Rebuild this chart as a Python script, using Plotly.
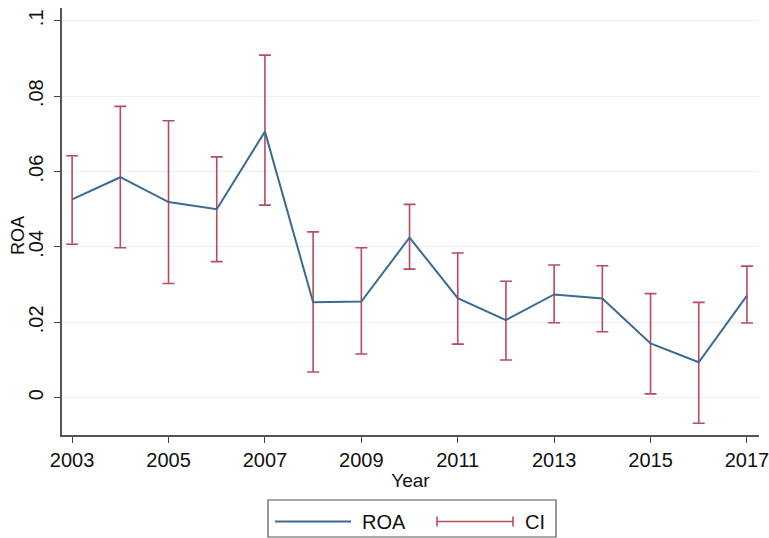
import plotly.graph_objects as go

years = [2003, 2004, 2005, 2006, 2007, 2008, 2009, 2010, 2011, 2012, 2013, 2014, 2015, 2016, 2017]
roa = [0.0526, 0.0585, 0.0519, 0.0500, 0.0706, 0.0253, 0.0255, 0.0425, 0.0264, 0.0206, 0.0274, 0.0263, 0.0144, 0.0094, 0.0271]
ci_upper = [0.0642, 0.0773, 0.0735, 0.0639, 0.0909, 0.0440, 0.0398, 0.0513, 0.0384, 0.0309, 0.0352, 0.0350, 0.0276, 0.0253, 0.0349]
ci_lower = [0.0407, 0.0398, 0.0303, 0.0361, 0.0511, 0.0068, 0.0116, 0.0341, 0.0142, 0.0100, 0.0199, 0.0175, 0.0010, -0.0068, 0.0198]
x_ticks = [2003, 2005, 2007, 2009, 2011, 2013, 2015, 2017]
y_ticks = [0, 0.02, 0.04, 0.06, 0.08, 0.1]
y_tick_text = ["0", ".02", ".04", ".06", ".08", ".1"]

BLUE = "#3B6A94"
RED = "#B84B5D"
FONT = "Liberation Sans, Arial, sans-serif"

W, H = 769, 538
L, R, T, B = 62, 10, 8, 103
PW, PH = W - L - R, H - T - B

mid = [(u + l) / 2 for u, l in zip(ci_upper, ci_lower)]
err_plus = [u - m for u, m in zip(ci_upper, mid)]
err_minus = [m - l for m, l in zip(mid, ci_lower)]

fig = go.Figure()
fig.add_trace(go.Scatter(
    x=years, y=mid, mode="markers", marker=dict(size=1, opacity=0),
    error_y=dict(type="data", array=err_plus, arrayminus=err_minus, symmetric=False,
                 color=RED, thickness=1.6, width=6),
    showlegend=False, hoverinfo="skip", cliponaxis=False))
fig.add_trace(go.Scatter(
    x=years, y=roa, mode="lines", line=dict(color=BLUE, width=2),
    showlegend=False))


def px(xp):
    return (xp - L) / PW


def py(yp):
    return (H - B - yp) / PH


shapes = [
    dict(type="rect", xref="paper", yref="paper", x0=px(268), x1=px(556), y0=py(500), y1=py(537),
         line=dict(color="#555555", width=1.2), fillcolor="white"),
    dict(type="line", xref="paper", yref="paper", x0=px(275), x1=px(351), y0=py(521.5), y1=py(521.5),
         line=dict(color=BLUE, width=2)),
    dict(type="line", xref="paper", yref="paper", x0=px(437), x1=px(513), y0=py(521.5), y1=py(521.5),
         line=dict(color=RED, width=1.6)),
    dict(type="line", xref="paper", yref="paper", x0=px(437), x1=px(437), y0=py(516.5), y1=py(526.5),
         line=dict(color=RED, width=1.6)),
    dict(type="line", xref="paper", yref="paper", x0=px(513), x1=px(513), y0=py(516.5), y1=py(526.5),
         line=dict(color=RED, width=1.6)),
]
annotations = [
    dict(text="ROA", xref="paper", yref="paper", x=px(360), y=py(522), xanchor="left", yanchor="middle",
         showarrow=False, font=dict(family=FONT, size=20, color="#111111")),
    dict(text="CI", xref="paper", yref="paper", x=px(523), y=py(522), xanchor="left", yanchor="middle",
         showarrow=False, font=dict(family=FONT, size=20, color="#111111")),
    dict(text="ROA", xref="paper", yref="paper", x=px(18), y=py(236), xanchor="center", yanchor="middle",
         textangle=-90, showarrow=False, font=dict(family=FONT, size=18, color="#111111")),
]

fig.update_layout(
    width=W, height=H,
    margin=dict(l=L, r=R, t=T, b=B, pad=0),
    paper_bgcolor="white", plot_bgcolor="white",
    font=dict(family=FONT, size=20, color="#111111"),
    shapes=shapes, annotations=annotations,
    showlegend=False,
    xaxis=dict(
        range=[2002.79, 2017.25], tickmode="array", tickvals=x_ticks,
        ticks="outside", ticklen=6, tickwidth=1.2, tickcolor="#444444",
        showline=True, linecolor="#555555", linewidth=1.5,
        showgrid=False, zeroline=False, automargin=False,
        tickfont=dict(size=20), ticklabeloverflow="allow",
        title=dict(text="Year", font=dict(size=19), standoff=4),
    ),
    yaxis=dict(
        range=[-0.0099, 0.1034], tickmode="array", tickvals=y_ticks, ticktext=y_tick_text,
        tickangle=-90,
        ticks="outside", ticklen=6, tickwidth=1.2, tickcolor="#444444",
        showline=True, linecolor="#555555", linewidth=1.5,
        showgrid=True, gridcolor="#EAF0F6", gridwidth=1, zeroline=False, automargin=False,
        tickfont=dict(size=20), ticklabelstandoff=3,
    ),
)

fig.write_html("out.html", config={"displayModeBar": False},
               post_script="document.body.style.margin='0';document.body.style.overflow='hidden';")
